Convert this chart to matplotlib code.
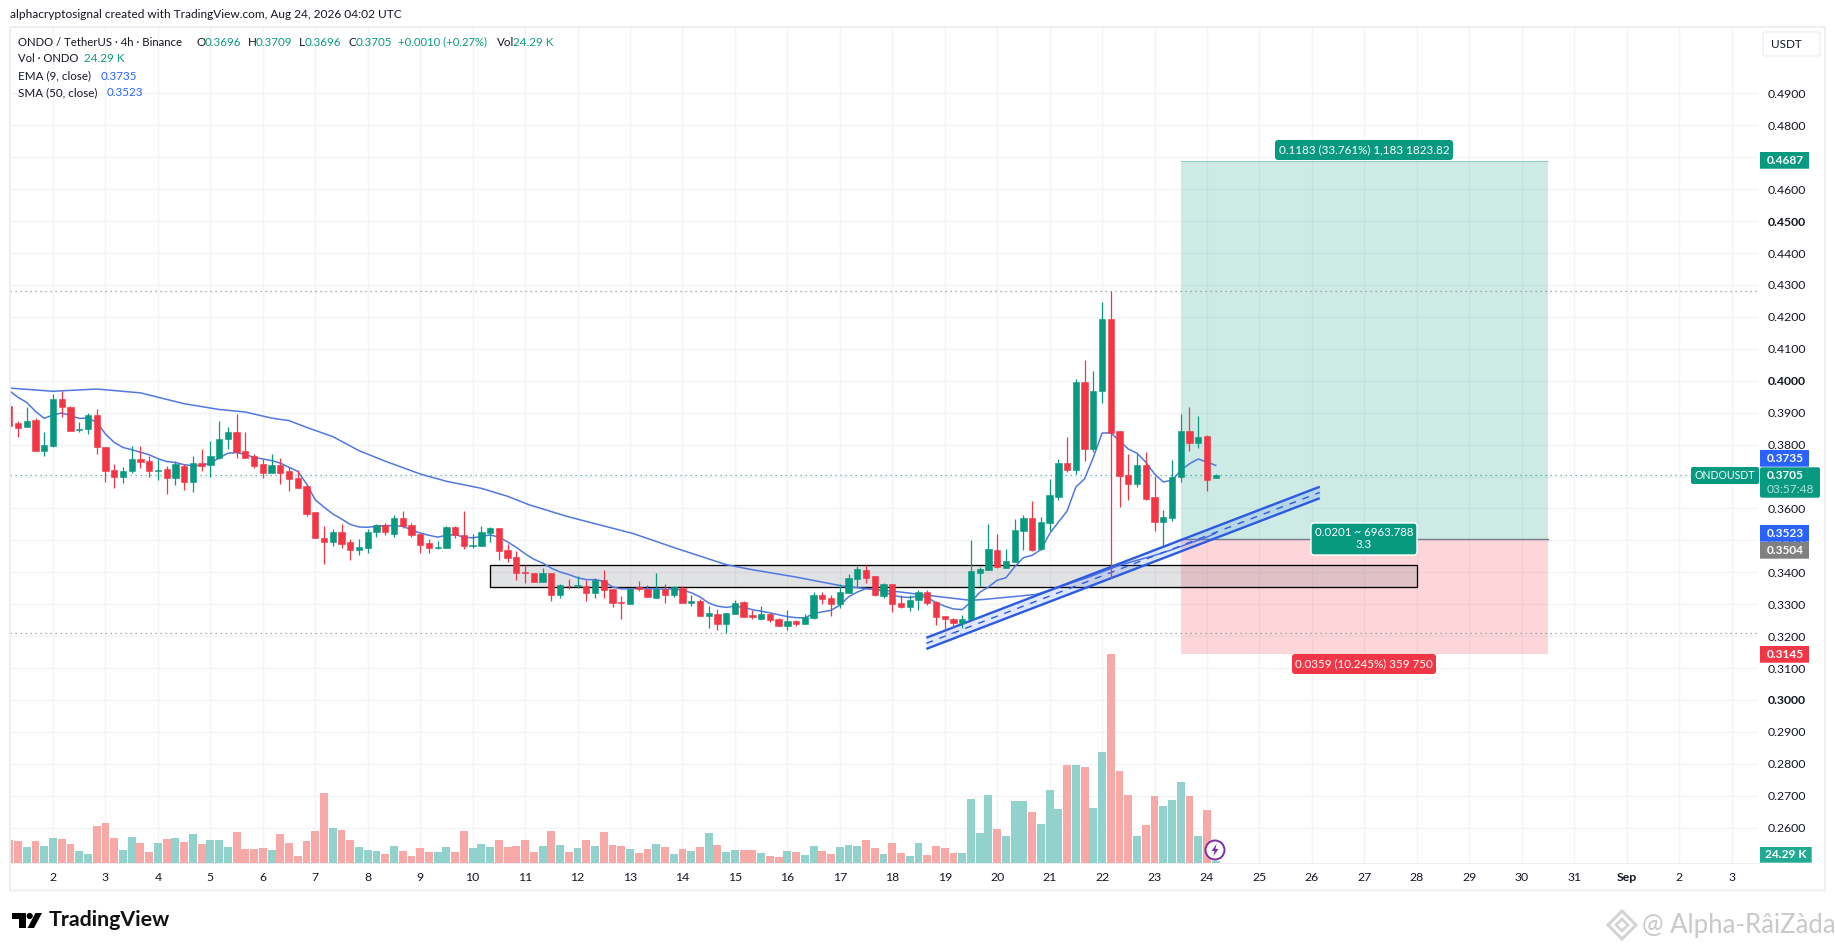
import matplotlib
matplotlib.use('Agg')
import matplotlib.pyplot as plt
from matplotlib.patches import Rectangle, FancyBboxPatch, Circle, Polygon
from matplotlib.transforms import IdentityTransform

W, H = 1835, 951
plt.rcParams['font.family'] = ['Lato', 'DejaVu Sans']

# 4h candles
opens = [.3922, .3867, .3854, .3878, .3781, .3797, .3944, .3919, .3846, .3848,
         .3894, .3794, .3719, .3700, .3716, .3756, .3750, .3717, .3722, .3694,
         .3734, .3682, .3743, .3737, .3758, .3816, .3841, .3781, .3763, .3740,
         .3712, .3737, .3716, .3694, .3669, .3588, .3506, .3494, .3525, .3494,
         .3469, .3475, .3525, .3547, .3521, .3569, .3547, .3520, .3491, .3475,
         .3475, .3542, .3516, .3481, .3481, .3522, .3538, .3469, .3447, .3401,
         .3398, .3369, .3397, .3328, .3358, .3356, .3358, .3334, .3377, .3347,
         .3306, .3300, .3353, .3347, .3319, .3347, .3328, .3352, .3303, .3309,
         .3262, .3269, .3237, .3269, .3306, .3265, .3253, .3269, .3253, .3231,
         .3247, .3237, .3256, .3328, .3319, .3300, .3334, .3378, .3408, .3387,
         .3325, .3362, .3303, .3291, .3312, .3337, .3306, .3262, .3255, .3241,
         .3253, .3397, .3406, .3469, .3413, .3431, .3528, .3569, .3472, .3553,
         .3637, .3741, .3719, .3997, .3787, .3967, .4194, .3844, .3705, .3678,
         .3737, .3637, .3556, .3569, .3700, .3844, .3806, .3828, .3696]
closes = [.3859, .3851, .3875, .3781, .3800, .3944, .3917, .3844, .3849, .3894,
          .3794, .3717, .3700, .3718, .3756, .3744, .3716, .3719, .3694, .3738,
          .3682, .3743, .3734, .3763, .3816, .3841, .3778, .3759, .3734, .3712,
          .3737, .3712, .3691, .3663, .3584, .3506, .3494, .3525, .3488, .3469,
          .3478, .3525, .3548, .3525, .3569, .3544, .3516, .3484, .3475, .3478,
          .3542, .3516, .3481, .3484, .3525, .3538, .3466, .3444, .3398, .3398,
          .3369, .3397, .3328, .3359, .3356, .3359, .3334, .3377, .3344, .3303,
          .3303, .3347, .3347, .3322, .3347, .3328, .3353, .3303, .3309, .3262,
          .3272, .3237, .3272, .3303, .3259, .3261, .3269, .3250, .3231, .3247,
          .3237, .3259, .3328, .3316, .3300, .3337, .3381, .3409, .3381, .3328,
          .3362, .3300, .3291, .3312, .3337, .3303, .3259, .3253, .3241, .3255,
          .3403, .3409, .3472, .3417, .3434, .3534, .3569, .3469, .3556, .3641,
          .3741, .3719, .3997, .3787, .3969, .4194, .3837, .3703, .3678, .3737,
          .3631, .3556, .3572, .3700, .3844, .3806, .3825, .3690, .3705]
highs = [.3932, .3875, .3917, .3882, .3841, .3958, .3967, .3922, .3872, .3898,
         .3911, .3794, .3738, .3729, .3797, .3797, .3763, .3755, .3734, .3748,
         .3740, .3763, .3786, .3812, .3873, .3856, .3896, .3838, .3771, .3755,
         .3771, .3758, .3729, .3719, .3672, .3588, .3544, .3536, .3550, .3505,
         .3503, .3536, .3550, .3555, .3578, .3591, .3555, .3521, .3503, .3497,
         .3544, .3544, .3591, .3521, .3544, .3542, .3540, .3488, .3466, .3422,
         .3398, .3412, .3397, .3362, .3380, .3387, .3375, .3383, .3408, .3349,
         .3325, .3352, .3372, .3359, .3398, .3362, .3356, .3356, .3328, .3316,
         .3294, .3286, .3272, .3312, .3309, .3281, .3294, .3273, .3258, .3281,
         .3252, .3269, .3338, .3337, .3328, .3362, .3394, .3419, .3422, .3387,
         .3366, .3362, .3328, .3328, .3344, .3344, .3309, .3262, .3256, .3266,
         .3500, .3417, .3552, .3521, .3474, .3566, .3578, .3622, .3573, .3693,
         .3755, .3823, .4007, .4066, .4029, .4248, .4281, .3844, .3769, .3771,
         .3778, .3703, .3594, .3753, .3896, .3919, .3891, .3831, .3709]
lows = [.3846, .3825, .3854, .3781, .3764, .3792, .3885, .3842, .3838, .3833,
        .3771, .3684, .3664, .3681, .3712, .3727, .3700, .3688, .3644, .3672,
        .3659, .3653, .3717, .3700, .3755, .3786, .3758, .3758, .3726, .3695,
        .3712, .3675, .3654, .3663, .3576, .3506, .3427, .3481, .3477, .3437,
        .3453, .3459, .3510, .3516, .3512, .3540, .3512, .3459, .3459, .3472,
        .3475, .3508, .3472, .3475, .3481, .3494, .3440, .3431, .3375, .3365,
        .3369, .3369, .3310, .3320, .3347, .3352, .3309, .3319, .3319, .3291,
        .3253, .3300, .3341, .3322, .3319, .3303, .3322, .3303, .3294, .3262,
        .3225, .3219, .3210, .3269, .3259, .3253, .3253, .3244, .3231, .3219,
        .3231, .3237, .3253, .3300, .3262, .3287, .3334, .3352, .3365, .3325,
        .3319, .3275, .3287, .3278, .3281, .3297, .3234, .3216, .3224, .3224,
        .3253, .3356, .3406, .3414, .3413, .3431, .3469, .3467, .3469, .3529,
        .3625, .3713, .3708, .3750, .3776, .3931, .3383, .3604, .3628, .3667,
        .3627, .3528, .3479, .3562, .3682, .3781, .3788, .3656, .3696]

# volume in thousands
volumes = [408, 390, 282, 390, 300, 444, 426, 336, 210, 156,
           660, 714, 444, 228, 462, 354, 192, 354, 426, 444,
           372, 516, 336, 408, 408, 282, 552, 246, 246, 264,
           228, 516, 354, 120, 390, 570, 1254, 624, 588, 408,
           282, 228, 210, 156, 300, 210, 120, 264, 192, 192,
           282, 192, 570, 264, 336, 282, 408, 282, 300, 408,
           192, 300, 570, 318, 192, 264, 408, 300, 552, 318,
           300, 246, 174, 246, 336, 282, 156, 246, 210, 282,
           534, 318, 192, 228, 228, 228, 174, 120, 102, 210,
           192, 138, 300, 210, 156, 282, 318, 300, 408, 264,
           156, 354, 174, 120, 354, 138, 300, 264, 174, 174,
           1146, 534, 1218, 606, 480, 1110, 1110, 912, 696, 1308,
           966, 1758, 1758, 1722, 984, 1992, 3756, 1650, 1218, 480,
           678, 1200, 1020, 1128, 1452, 1200, 480, 948, 24.29]

ema9 = [.3969, .3948, .3932, .3904, .3882, .3893, .3899, .3891, .3882, .3883,
        .3870, .3833, .3807, .3791, .3784, .3776, .3768, .3756, .3747, .3744,
        .3737, .3734, .3735, .3742, .3758, .3773, .3775, .3769, .3760, .3755,
        .3750, .3742, .3729, .3716, .3677, .3627, .3604, .3583, .3567, .3550,
        .3542, .3541, .3544, .3546, .3546, .3544, .3533, .3523, .3516, .3510,
        .3516, .3518, .3510, .3508, .3512, .3517, .3510, .3495, .3478, .3458,
        .3441, .3429, .3413, .3401, .3393, .3383, .3377, .3377, .3372, .3354,
        .3348, .3348, .3349, .3348, .3348, .3347, .3348, .3344, .3336, .3323,
        .3304, .3294, .3290, .3294, .3290, .3283, .3278, .3273, .3267, .3261,
        .3258, .3257, .3271, .3276, .3281, .3297, .3323, .3338, .3349, .3346,
        .3341, .3328, .3323, .3321, .3326, .3321, .3305, .3294, .3285, .3283,
        .3307, .3337, .3354, .3375, .3383, .3417, .3446, .3453, .3471, .3521,
        .3557, .3592, .3667, .3693, .3760, .3836, .3837, .3812, .3786, .3773,
        .3745, .3708, .3683, .3688, .3719, .3740, .3755, .3745, .3735]

sma_bars = [0, 5, 10, 15, 20, 24, 27, 30, 32, 34, 37, 40, 43, 47, 50, 54, 57, 59.4,
            63.8, 71.4, 76.4, 82, 85, 90, 95.5, 98, 102, 105, 110, 111.5, 115.7,
            117.5, 123.5, 127, 131, 132.6, 134.3, 137, 138]
sma50 = [.3977, .3967, .3974, .3962, .3928, .3910, .3902, .3883, .3875, .3854, .3825, .3781,
         .3748, .3708, .3685, .3663, .3638, .3612, .3575, .3521, .3474, .3424, .3408, .3385,
         .3356, .3349, .3338, .3328, .3312, .3315, .3326, .3331, .3385, .3422, .3453, .3467,
         .3484, .3510, .3523]

# axis ticks
price_ticks = [.26, .27, .28, .29, .30, .31, .32, .33, .34, .35, .36, .37, .38, .39,
               .40, .41, .42, .43, .44, .45, .46, .47, .48, .49]
strong_prices = ['0.3000', '0.4000', '0.4500']
day_labels = ['2', '3', '4', '5', '6', '7', '8', '9', '10', '11', '12', '13', '14', '15', '16',
              '17', '18', '19', '20', '21', '22', '23', '24', '25', '26', '27', '28', '29', '30',
              '31', 'Sep', '2', '3']
day_bars = [5 + 6 * n for n in range(33)]

# drawings
high_line, last_price, low_line = .4281, .3705, .3211
zone_top, zone_bottom, zone_start, zone_end = .3424, .3353, 55, 161
pos_start, pos_end, entry, target, stop = 134, 176, .3504, .4687, .3145
chan_bars = [104.9, 149.9]
chan_upper = [.3195, .3668]
chan_lower = [.3160, .3632]
chan_middle = [.31775, .3650]

GREEN, RED, BLUE = '#089981', '#f23645', '#2962ff'
LINE_BLUE = '#4f78e0'
GRID = '#f3f4f7'
DARK = '#131722'

fig = plt.figure(figsize=(W / 100, H / 100), dpi=100, facecolor='white')
ax_left, ax_right, ax_top, ax_bottom = 10, 1758, 27, 862.5
rect = [ax_left / W, 1 - ax_bottom / H, (ax_right - ax_left) / W, (ax_bottom - ax_top) / H]

ax = fig.add_axes(rect)
# volume goes in its own axes over the price pane, so the grid stays behind the bars
ax_vol = fig.add_axes(rect)
ax_vol.patch.set_visible(False)
ax_vol.axis('off')

idx = list(range(len(closes)))
up = [c >= o for o, c in zip(opens, closes)]
ax_vol.bar(idx, volumes, width=0.9, color=['#92d2cc' if u else '#f7a9a7' for u in up])
ax_vol.set_xlim(0.08, 200.03)
ax_vol.set_ylim(0, 15039)

ax.set_xlim(0.08, 200.03)
ax.set_ylim(.2491, .5108)
ax.set_yticks(price_ticks)
ax.set_yticklabels(['%.4f' % p for p in price_ticks])
ax.set_xticks(day_bars)
ax.set_xticklabels(day_labels)
ax.yaxis.tick_right()
ax.tick_params(axis='both', length=0, labelsize=8.8, labelcolor=DARK)
ax.tick_params(axis='y', pad=7)
ax.tick_params(axis='x', pad=6.5)
for t in ax.get_yticklabels():
    if t.get_text() in strong_prices:
        t.set_fontweight('bold')
for t in ax.get_xticklabels():
    if t.get_text() == 'Sep':
        t.set_fontweight('bold')
ax.grid(True, color=GRID, lw=1)
ax.set_axisbelow(True)
for s in ['top', 'left', 'right']:
    ax.spines[s].set_visible(False)
ax.spines['bottom'].set_color('#eceef2')

# long position tool
ax.add_patch(Rectangle((pos_start, entry), pos_end - pos_start, target - entry, fc=GREEN, alpha=0.2, lw=0, zorder=1))
ax.add_patch(Rectangle((pos_start, stop), pos_end - pos_start, entry - stop, fc=RED, alpha=0.2, lw=0, zorder=1))
ax.plot([pos_start, pos_end], [entry, entry], color='#787b86', lw=1, zorder=1.2)
ax.plot([pos_start, pos_end], [target, target], color=GREEN, lw=0.6, alpha=0.4, zorder=1.2)

# grey zone
ax.add_patch(Rectangle((zone_start, zone_bottom), zone_end - zone_start, zone_top - zone_bottom,
                       fc='#787b86', alpha=0.22, lw=0, zorder=1.5))
ax.add_patch(Rectangle((zone_start, zone_bottom), zone_end - zone_start, zone_top - zone_bottom,
                       fc='none', ec='black', lw=0.95, zorder=1.6))

# dotted levels
ax.axhline(high_line, color='#8a8f99', ls=(0, (1, 3)), lw=0.9, zorder=1.7)
ax.axhline(low_line, color='#8a8f99', ls=(0, (1, 3)), lw=0.9, zorder=1.7)
ax.axhline(last_price, color=GREEN, ls=(0, (1, 3)), lw=0.9, alpha=0.8, zorder=1.7)

# moving averages
ax.plot(idx, ema9, color=LINE_BLUE, lw=1.1, zorder=2)
ax.plot(sma_bars, sma50, color=LINE_BLUE, lw=1.1, zorder=2)

# parallel channel
ax.fill_between(chan_bars, chan_lower, chan_upper, color=BLUE, alpha=0.14, lw=0, zorder=2.5)
ax.plot(chan_bars, chan_upper, color='#2a5be0', lw=1.7, zorder=2.6, solid_capstyle='butt')
ax.plot(chan_bars, chan_lower, color='#2a5be0', lw=1.7, zorder=2.6, solid_capstyle='butt')
ax.plot(chan_bars, chan_middle, color='#2a5be0', lw=1.0, ls=(0, (5, 5)), zorder=2.6)

# candles
colors = [GREEN if u else RED for u in up]
ax.vlines(idx, lows, highs, colors=colors, lw=0.9, zorder=4)
ax.bar(idx, [abs(c - o) for o, c in zip(opens, closes)], bottom=[min(o, c) for o, c in zip(opens, closes)],
       width=0.72, color=colors, edgecolor=colors, lw=0.4, zorder=4.1)


# everything below is placed in pixels from the top left of the image
def px_text(x, y, s, color=DARK, size=8.4, ha='left', va='center', weight='normal'):
    fig.text(x / W, 1 - y / H, s, color=color, fontsize=size, ha=ha, va=va, fontweight=weight, zorder=12)


def px_box(x0, y0, x1, y1, color, radius=0.0, ec='none', lw=0, zorder=10):
    fig.add_artist(FancyBboxPatch((x0, H - y1), x1 - x0, y1 - y0,
                                  boxstyle='round,pad=0,rounding_size=%s' % radius,
                                  fc=color, ec=ec, lw=lw, transform=IdentityTransform(), zorder=zorder))


def px_poly(points, color, ec='none', lw=0, fill=True):
    fig.add_artist(Polygon([(x, H - y) for x, y in points], closed=True, fill=fill, fc=color if fill else 'none',
                           ec=ec, lw=lw, transform=IdentityTransform(), zorder=11))


# chart frame
px_box(10, 27, 1825, 890.5, 'none', ec='#eceef2', lw=1.3, zorder=1)

# header and legend
px_text(10, 15, 'alphacryptosignal created with TradingView.com, Aug 24, 2026 04:02 UTC', size=8.6)
px_text(18, 42, 'ONDO / TetherUS · 4h · Binance', size=8.2)
for x, label, x2, value in [(196.5, 'O', 205, '0.3696'), (248, 'H', 256, '0.3709'),
                            (299, 'L', 304.5, '0.3696'), (348, 'C', 356, '0.3705')]:
    px_text(x, 42, label)
    px_text(x2, 42, value, color=GREEN)
px_text(398.5, 42, '+0.0010 (+0.27%)', color=GREEN, size=8.1)
px_text(497, 42, 'Vol')
px_text(513, 42, '24.29 K', color=GREEN)
px_text(18, 59, 'Vol · ONDO', size=8.1)
px_text(84, 59, '24.29 K', color=GREEN)
px_text(18, 76, 'EMA (9, close)')
px_text(101, 76, '0.3735', color=BLUE)
px_text(18, 93, 'SMA (50, close)')
px_text(107, 93, '0.3523', color=BLUE)

# currency button
px_box(1763, 32, 1820, 56, 'white', radius=2, ec='#eef0f4', lw=1)
px_text(1786, 45, 'USDT', ha='center')

# position labels
px_box(1275, 140, 1453, 160, GREEN, radius=3)
px_text(1364, 150, '0.1183 (33.761%) 1,183 1823.82', color='white', ha='center', size=8.35)
px_box(1311, 523, 1417, 555, GREEN, radius=3, ec='white', lw=1)
px_text(1364, 532, '0.0201 ~ 6963.788', color='white', ha='center', size=8.3)
px_text(1364, 545, '3.3', color='white', ha='center', size=8.3)
px_box(1292, 654, 1436, 674, RED, radius=3)
px_text(1364, 663.5, '0.0359 (10.245%) 359 750', color='white', ha='center', size=8.35)

# price scale labels
for y0, y1, color, label in [(152, 168.7, GREEN, '0.4687'), (450, 466.7, BLUE, '0.3735'),
                             (525, 541.7, BLUE, '0.3523'), (542, 558.7, '#808080', '0.3504'),
                             (646, 662.7, RED, '0.3145')]:
    px_box(1760, y0, 1809, y1, color)
    px_text(1785, (y0 + y1) / 2, label, color='white', ha='center', weight='bold', size=8.6)
px_box(1760, 467.3, 1820, 497.7, GREEN, radius=2)
px_text(1785, 475.7, '0.3705', color='white', ha='center', weight='bold', size=8.6)
px_text(1790, 489.3, '03:57:48', color='#b5e2d8', ha='center', size=8.6)
px_box(1691, 467, 1759, 484, GREEN, radius=2)
px_text(1725, 475.5, 'ONDOUSDT', color='white', ha='center', size=7.6)
px_box(1760, 847, 1811.7, 862.7, '#22ab94')
px_text(1786, 855, '24.29 K', color='white', ha='center', weight='bold', size=8.6)

# bolt icon on the last bar
fig.add_artist(Circle((1215, H - 850), 9.5, fc='white', ec='#7b2fa8', lw=1.4, transform=IdentityTransform(), zorder=11))
px_poly([(1216.5, 844), (1211.5, 851), (1214.5, 851), (1213.5, 856), (1218.5, 849), (1215.5, 849)], '#7b2fa8')

# TradingView logo
px_poly([(12, 913), (26, 913), (26, 928), (19, 928), (19, 919), (12, 919)], 'black')
fig.add_artist(Circle((29.7, H - 916), 3.1, fc='black', ec='none', transform=IdentityTransform(), zorder=11))
px_poly([(35.5, 913), (42, 913), (34, 928), (27.5, 928)], 'black')
px_text(49, 920.5, 'TradingView', color='#111111', size=15.4, weight='bold')

# watermark
px_text(1642, 926, '@ Alpha-RâiZàda', color='#c9c9c9', size=18.5)
px_poly([(1622, 911), (1636, 925), (1622, 939), (1608, 925)], 'white', ec='#d4d4d4', lw=2.2)
px_poly([(1622, 919), (1628, 925), (1622, 931), (1616, 925)], 'white', ec='#d4d4d4', lw=2)

fig.savefig('out.png', dpi=100, facecolor='white')
